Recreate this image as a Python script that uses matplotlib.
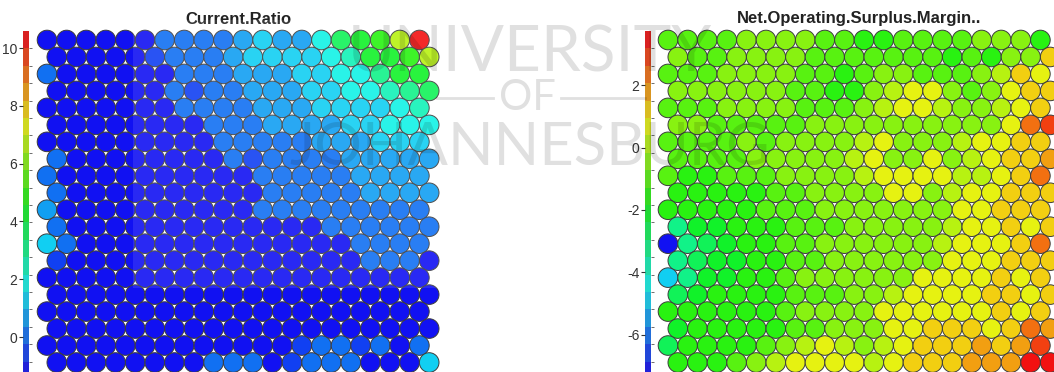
import numpy as np
import matplotlib
matplotlib.use("Agg")
import matplotlib.pyplot as plt
from matplotlib.patches import Circle, Rectangle
from matplotlib.collections import PatchCollection
from matplotlib.colors import ListedColormap, BoundaryNorm, hsv_to_rgb
from matplotlib.ticker import FixedLocator
from matplotlib.lines import Line2D

# ---------------- data (20 x 20 SOM component planes, row 0 = top) ----------------
titles = ["Current.Ratio", "Net.Operating.Surplus.Margin.."]

current_ratio = [
    [-1.2,-1.2,-1.2,-1.2,-1.2,-1.2,0.1,0.1,0.1,0.1,0.7,1.3,0.7,0.7,1.9,3.7,4.3,4.9,6.7,10.4],
    [-1.2,-1.2,-1.2,-1.2,-1.2,-0.6,0.1,0.1,0.1,0.7,1.3,1.3,1.3,1.3,1.9,2.5,4.3,4.3,4.9,6.7],
    [0.1,-1.2,-1.2,-1.2,-1.2,-1.2,-1.2,0.1,0.1,0.1,0.7,0.7,0.7,1.3,1.3,1.9,1.9,3.1,4.3,4.3],
    [-1.2,-1.2,-1.2,-1.2,-1.2,-1.2,0.1,-0.6,0.1,0.1,0.7,0.7,0.7,1.3,1.3,1.9,1.9,2.5,3.1,3.7],
    [-1.2,-1.2,-1.2,-1.2,-1.2,-1.2,-1.2,0.1,0.1,0.1,0.1,0.7,0.7,0.7,1.3,1.3,1.3,1.3,1.9,2.5],
    [-1.2,-1.2,-1.2,-1.2,-1.2,-1.2,-1.2,-1.2,0.1,0.1,0.1,0.7,0.7,0.7,0.7,1.3,1.3,1.9,1.9,1.9],
    [-1.2,-1.2,-1.2,-1.2,-1.2,-1.2,-1.2,-1.2,-1.2,0.1,0.1,0.1,0.1,0.1,0.7,0.7,0.7,1.3,1.3,1.3],
    [0.1,-1.2,-1.2,-1.2,-1.2,-1.2,-1.2,-1.2,-1.2,0.1,-0.6,0.1,0.1,0.1,0.1,0.7,0.7,0.7,0.7,0.7],
    [0.1,-1.2,-1.2,-1.2,-1.2,-1.2,-1.2,-1.2,-1.2,-1.2,-1.2,0.1,0.1,0.1,0.1,0.1,0.7,0.7,0.7,0.7],
    [0.1,-1.2,-1.2,-1.2,-1.2,-1.2,-1.2,-1.2,-1.2,-1.2,-1.2,0.1,0.1,0.1,0.1,0.1,0.7,0.7,0.7,0.7],
    [0.7,-1.2,-1.2,-1.2,-1.2,-1.2,-1.2,-1.2,-1.2,-1.2,-1.2,0.1,0.1,0.1,0.1,0.1,0.1,0.1,0.1,0.1],
    [0.1,-1.2,-1.2,-1.2,-1.2,-1.2,-1.2,-1.2,-1.2,-1.2,-1.2,-1.2,-1.2,-1.2,0.1,0.1,0.1,0.1,0.1,0.1],
    [1.3,0.1,-1.2,-1.2,-1.2,-1.2,-1.2,-1.2,-1.2,-1.2,-1.2,-1.2,-1.2,-1.2,-1.2,-1.2,0.1,0.1,0.1,0.1],
    [-0.6,-1.2,-1.2,-1.2,-1.2,-1.2,-1.2,-1.2,-1.2,-1.2,-1.2,-1.2,-1.2,-1.2,-1.2,-1.2,0.1,0.1,0.1,-1.2],
    [-1.2,-1.2,-1.2,-1.2,-1.2,-1.2,-1.2,-1.2,-1.2,-1.2,-1.2,-1.2,-1.2,-1.2,-1.2,-1.2,-1.2,-1.2,-1.2,-1.2],
    [-1.2,-1.2,-1.2,-1.2,-1.2,-1.2,-1.2,-1.2,-1.2,-1.2,-1.2,-1.2,-1.2,-1.2,-1.2,-1.2,-1.2,-1.2,-1.2,-1.2],
    [-1.2,-1.2,-1.2,-1.2,-1.2,-1.2,-1.2,-1.2,-1.2,-1.2,-1.2,-1.2,-1.2,-1.2,-1.2,-1.2,-1.2,-1.2,-1.2,-1.2],
    [-1.2,-1.2,-1.2,-1.2,-1.2,-1.2,-1.2,-1.2,-1.2,-1.2,-1.2,-1.2,-1.2,-1.2,-1.2,-1.2,-1.2,-1.2,-1.2,-1.2],
    [-1.2,-1.2,-1.2,-1.2,-1.2,-1.2,-1.2,-1.2,-1.2,-1.2,-1.2,-1.2,-1.2,-0.6,0.1,0.1,-0.6,0.1,-1.2,0.1],
    [-1.2,-1.2,-1.2,-1.2,-1.2,-1.2,-1.2,-1.2,0.1,0.1,0.1,-1.2,-0.6,0.1,0.1,0.1,-1.2,-1.2,-1.2,1.3],
]

net_operating_surplus_margin = [
    [-1.0,-1.0,-1.0,-1.0,-0.4,-0.4,-0.4,-0.4,-1.0,-1.0,-1.6,-1.6,-1.0,-1.0,-1.0,-1.0,-0.4,-0.4,-0.4,-1.6],
    [-0.4,-1.0,-1.0,-0.4,-0.4,-0.4,-0.4,-1.0,-1.0,-1.0,-1.0,-1.0,-1.0,-1.0,-1.6,-1.0,-1.6,-0.4,-0.4,1.2],
    [-1.0,-1.0,-1.0,-0.4,-0.4,-0.4,-0.4,-1.0,-1.0,-1.6,-1.0,-0.4,-0.4,-1.0,-1.0,-1.0,-0.4,0.1,1.2,0.7],
    [-0.4,-0.4,-0.4,-0.4,-0.4,-0.4,-1.0,-1.0,-1.6,-1.6,-0.4,0.1,0.7,0.7,-0.4,-1.0,-0.4,0.7,1.2,1.2],
    [-1.0,-1.0,-1.0,-0.4,-0.4,-0.4,-0.4,-1.0,-1.0,-1.0,-0.4,0.1,0.7,0.7,0.1,-0.4,-0.4,0.1,0.7,1.2],
    [-0.4,-0.4,-1.0,-1.0,-1.0,-1.0,-1.0,-0.4,-0.4,-0.4,-0.4,-0.4,-0.4,-0.4,-0.4,-0.4,-0.4,0.7,2.3,2.9],
    [-1.0,-1.0,-1.0,-1.0,-0.4,-1.0,-0.4,-0.4,-0.4,-0.4,0.1,0.7,-0.4,-0.4,-0.4,0.1,0.7,0.7,1.2,1.2],
    [-1.0,-1.0,-1.0,-1.0,-0.4,-0.4,-0.4,-0.4,-0.4,0.1,0.7,-0.4,-0.4,0.7,-0.4,0.1,0.7,1.2,1.2,1.8],
    [-1.0,-1.6,-1.6,-1.0,-1.0,-1.0,-0.4,-0.4,-0.4,-0.4,0.1,0.7,0.7,0.7,0.7,0.1,0.1,0.7,1.2,2.3],
    [-1.6,-1.6,-1.6,-1.6,-1.6,-1.0,-1.0,-0.4,-0.4,-0.4,-0.4,0.7,0.7,-0.4,0.1,0.7,0.7,1.2,1.2,1.2],
    [-1.6,-1.6,-1.6,-1.6,-1.6,-1.0,-1.0,-1.0,-0.4,-0.4,-0.4,-0.4,-0.4,-0.4,-0.4,0.7,0.7,1.2,1.2,1.2],
    [-3.2,-2.1,-2.1,-1.6,-1.6,-1.6,-1.0,-1.0,-1.0,-0.4,-0.4,-0.4,-0.4,-0.4,0.1,0.7,0.7,1.2,0.7,1.2],
    [-7.1,-3.2,-2.7,-2.1,-1.6,-1.6,-1.0,-1.0,-0.4,-0.4,-0.4,-0.4,-0.4,-0.4,0.1,0.7,0.7,0.7,1.2,2.3],
    [-3.2,-2.7,-2.1,-2.1,-1.6,-1.6,-1.0,-1.0,-0.4,-0.4,-0.4,-0.4,-0.4,-0.4,0.7,0.7,0.7,1.2,1.2,1.2],
    [-4.9,-3.2,-2.1,-2.1,-1.6,-1.6,-1.0,-0.4,-0.4,-0.4,-0.4,-0.4,-0.4,0.7,0.7,0.7,0.7,1.2,0.7,1.2],
    [-2.7,-2.1,-1.6,-1.6,-1.6,-1.6,-1.0,-1.0,-1.0,-0.4,-0.4,0.1,0.7,0.7,0.7,0.7,1.2,1.2,0.7,1.2],
    [-1.6,-1.6,-1.6,-1.6,-1.6,-1.6,-1.0,-0.4,-0.4,-0.4,-0.4,0.7,0.7,0.7,0.7,0.7,0.7,1.2,0.7,1.2],
    [-2.1,-1.6,-1.6,-1.6,-1.6,-1.6,-1.0,-1.0,-0.4,-0.4,-0.4,0.7,0.7,1.2,1.2,1.2,0.7,1.2,2.3,1.8],
    [-2.7,-1.6,-1.6,-1.6,-1.6,-1.0,-0.4,0.1,0.7,0.1,-0.4,0.1,0.7,1.2,1.2,1.2,1.8,1.2,1.8,2.9],
    [-1.6,-1.6,-1.6,-1.0,-0.4,0.1,0.7,0.7,0.7,0.7,0.1,0.7,1.2,1.2,1.2,1.8,1.8,1.8,3.5,3.5],
]

cr_range = (-1.45, 10.59)
nm_range = (-7.41, 3.73)
cr_ticks = [0, 2, 4, 6, 8, 10]
nm_ticks = [-6, -4, -2, 0, 2]
n_colors = 20

# ---------------- styling / layout ----------------
W, H = 1054, 372
fig = plt.figure(figsize=(W / 100, H / 100), dpi=100)
FONT = ["Liberation Sans", "DejaVu Sans"]

hues = np.linspace(2 / 3, 0, n_colors)
cell_cmap = ListedColormap(hsv_to_rgb(np.column_stack(
    [hues, np.full(n_colors, 0.93), np.full(n_colors, 0.95)])))
bar_cmap = ListedColormap(hsv_to_rgb(np.column_stack(
    [hues, np.full(n_colors, 0.85), np.full(n_colors, 0.85)])))


def px_axes(x0, y0, x1, y1):
    return fig.add_axes([x0 / W, 1 - y1 / H, (x1 - x0) / W, (y1 - y0) / H])


UNIT = 19.6  # pixels between neighbouring units


def draw_plane(values, vrange, ticks, first_center_x, bar_x, title):
    vals = np.asarray(values, float)
    nrow, ncol = vals.shape
    bounds = np.linspace(vrange[0], vrange[1], n_colors + 1)
    norm = BoundaryNorm(bounds, n_colors)
    top_center_y = 40.0
    xl = (-0.6, ncol + 0.1)
    yl = (-(nrow - 1) * np.sqrt(3) / 2 - 0.6, 0.6)
    ax = px_axes(first_center_x + xl[0] * UNIT, top_center_y - yl[1] * UNIT,
                 first_center_x + xl[1] * UNIT, top_center_y - yl[0] * UNIT)
    rows, cols = np.indices(vals.shape)
    xs = cols + 0.5 * (rows % 2)
    ys = -rows * np.sqrt(3) / 2
    patches = [Circle((x, y), 0.5) for x, y in zip(xs.ravel(), ys.ravel())]
    pc = PatchCollection(patches, cmap=cell_cmap, norm=norm,
                         edgecolor="#3c3c3c", linewidth=0.7)
    pc.set_array(vals.ravel())
    ax.add_collection(pc)
    ax.set_xlim(*xl)
    ax.set_ylim(*yl)
    ax.axis("off")

    # colour key
    cax = px_axes(bar_x, 31, bar_x + 5.5, 379)
    mids = (bounds[:-1] + bounds[1:]) / 2
    cax.pcolormesh([0, 1], bounds, mids[:, None], cmap=bar_cmap, norm=norm)
    cax.set_xlim(0, 1)
    cax.set_ylim(*vrange)
    cax.set_xticks([])
    cax.set_yticks(ticks)
    cax.set_yticklabels([str(t) for t in ticks])
    cax.yaxis.set_minor_locator(FixedLocator(bounds[1:-1]))
    cax.tick_params(axis="y", which="major", left=True, right=False, length=3,
                    width=0.8, pad=1, labelsize=10, colors="#333333")
    cax.tick_params(axis="y", which="minor", left=False, right=True, length=2.5,
                    width=0.6, colors="#555555")
    for lab in cax.get_yticklabels():
        lab.set_fontfamily(FONT)
    for s in cax.spines.values():
        s.set_visible(False)

    cx = first_center_x + (xl[0] + xl[1]) / 2 * UNIT
    fig.text(cx / W, 1 - 19 / H, title, ha="center", va="center",
             fontsize=12, fontweight="bold", family=FONT, color="#222222")


draw_plane(current_ratio, cr_range, cr_ticks, 47.0, 23.0, titles[0])
draw_plane(net_operating_surplus_margin, nm_range, nm_ticks, 668.0, 645.0, titles[1])

# ---------------- watermark ----------------
fig.add_artist(Rectangle((133 / W, 1 - 288 / H), (441 - 133) / W, (288 - 20) / H,
                         transform=fig.transFigure, facecolor="white",
                         edgecolor="none", alpha=0.10, zorder=5))
wm = dict(color="black", alpha=0.12, ha="center", va="center",
          family=["Lato", "DejaVu Sans"], fontweight="normal", zorder=6)
fig.text(530 / W, 1 - 53 / H, "UNIVERSITY", fontsize=46, **wm)
fig.text(527 / W, 1 - 98 / H, "OF", fontsize=30, **wm)
fig.text(530 / W, 1 - 148 / H, "JOHANNESBURG", fontsize=43, **wm)
for xa, xb in [(437, 493), (561, 645)]:
    fig.add_artist(Line2D([xa / W, xb / W], [1 - 98 / H] * 2, color="black",
                          alpha=0.12, lw=2, transform=fig.transFigure, zorder=6))

fig.savefig("out.png", dpi=100)
